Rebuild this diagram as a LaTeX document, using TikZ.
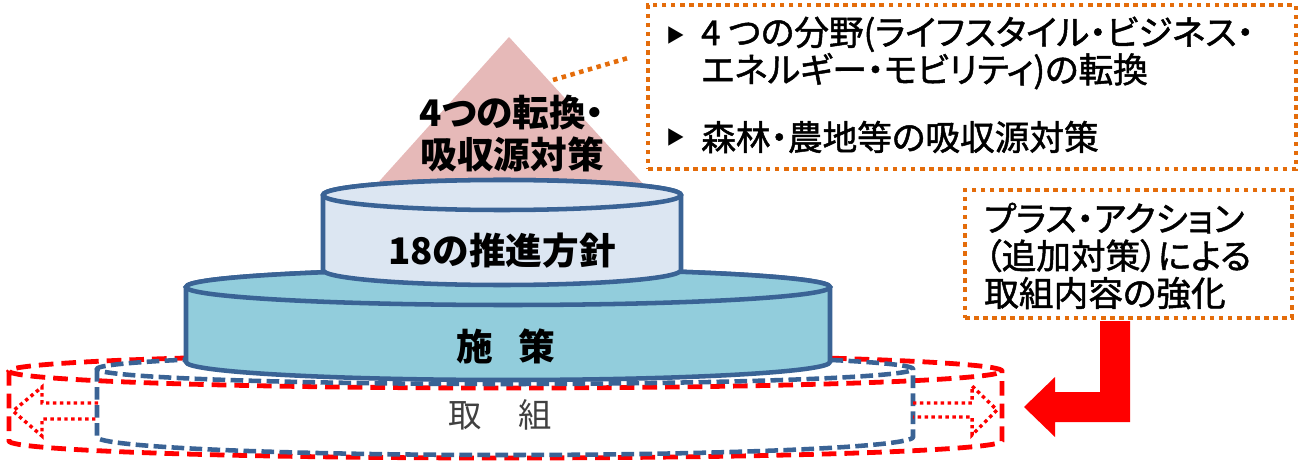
\documentclass[tikz,border=0pt]{standalone}
\usepackage{fontspec}
\setmainfont{Noto Sans CJK JP}[RawFeature=+palt]
\newfontfamily\medfont{Noto Sans CJK JP}[RawFeature=+palt,FakeBold=1.4]
\usepackage{xcolor}
\usepackage{tikz}
\usetikzlibrary{positioning}

\definecolor{rimblue}{HTML}{3A6395}
\definecolor{topfill}{HTML}{DCE6F2}
\definecolor{midfill}{HTML}{92CDDC}
\definecolor{peakfill}{HTML}{E6B9B8}
\definecolor{calloutorange}{HTML}{E46C0A}
\definecolor{textgray}{HTML}{404040}

\newcommand{\tri}{{\fontsize{14}{14}\selectfont ▶}}

\begin{document}
\begin{tikzpicture}[x=0.75pt,y=-0.75pt,
    rim/.style={draw=rimblue,line width=3.4pt},
    bluedash/.style={draw=rimblue,line width=3.4pt,dash pattern=on 9.5pt off 4pt},
    reddash/.style={draw=red,line width=3.6pt,dash pattern=on 11pt off 6pt},
    reddot/.style={draw=red,line width=2.6pt,dash pattern=on 2.6pt off 2.6pt},
    calloutbox/.style={draw=calloutorange,line width=3.4pt,dash pattern=on 3.4pt off 3.4pt,inner sep=0pt},
    layerlabel/.style={font=\fontsize{27.5}{31.5}\selectfont\bfseries,align=center},
    itemtext/.style={font=\medfont\fontsize{26}{28}\selectfont,align=left,inner sep=0pt}]
    \useasboundingbox (0,0) rectangle (1301,463);

    % Outer ring (red) and base ring (blue)
    \draw[reddash] (9,371) -- (9,441) arc[start angle=180,end angle=0,x radius=496.5,y radius=17]
        -- (1002,371) arc[start angle=0,end angle=-360,x radius=496.5,y radius=17];
    \draw[bluedash] (97,369) -- (97,437) arc[start angle=180,end angle=0,x radius=408,y radius=18]
        -- (913,369) arc[start angle=0,end angle=-360,x radius=408,y radius=15];

    % Dotted arrows
    \draw[reddot] (98,403) -- (42,403) -- (42,387) -- (13,411) -- (42,436) -- (42,419) -- (98,419);
    \draw[reddot] (913,403) -- (972,403) -- (972,386) -- (997,410) -- (972,435) -- (972,417) -- (913,417);

    % Peak
    \fill[peakfill] (509,37) -- (645,186) -- (375,186) -- cycle;

    % Middle cylinder
    \draw[rim,fill=midfill] (186,287) -- (186,362) arc[start angle=180,end angle=0,x radius=322,y radius=18]
        -- (830,287) arc[start angle=0,end angle=-180,x radius=322,y radius=18] -- cycle;
    \draw[rim,fill=midfill] (508,287) ellipse [x radius=322,y radius=18];

    % Top cylinder
    \draw[rim,fill=topfill] (323,195) -- (323,270) arc[start angle=180,end angle=0,x radius=179,y radius=15]
        -- (681,195) arc[start angle=0,end angle=-180,x radius=179,y radius=15] -- cycle;
    \draw[rim,fill=topfill] (502,195) ellipse [x radius=179,y radius=15];

    % Layer labels
    \node[layerlabel] (peak) at (512,134) {4つの転換・\\吸収源対策};
    \node[layerlabel] (policy) at (502,251) {18の推進方針};
    \node[layerlabel] (measures) at (506,346) {施\hspace{0.7em}策};
    \node[font=\fontsize{25}{28}\selectfont,text=textgray] (effort) at (500,415) {取\hspace{1.1em}組};

    % Callout box
    \node[calloutbox,minimum width=486pt,minimum height=123pt] (shiftbox) at (972,87) {};
    \node (tri1) at (676,35) {\tri};
    \node[itemtext,anchor=west] (item1) at (701,53) {4 つの分野(ライフスタイル・ビジネス・\\エネルギー・モビリティ)の転換};
    \node (tri2) at (676,137) {\tri};
    \node[itemtext,anchor=west] (item2) at (701,137) {森林・農地等の吸収源対策};
    \coordinate (calloutstart) at (553,80);
    \coordinate (calloutend) at (628,58);
    \draw[draw=calloutorange,line width=3.4pt,dash pattern=on 3.4pt off 3.4pt] (calloutstart) -- (calloutend);

    % Plus action box
    \node[calloutbox,minimum width=245.25pt,minimum height=96pt] (plusbox) at (1128.5,254) {};
    \node[itemtext,anchor=west] (plustext) at (984,256) {プラス・アクション\\（追加対策）による\\取組内容の強化};

    % Bent arrow
    \fill[red] (1100,321) -- (1130,321) -- (1130,422) -- (1055,422) -- (1055,437) -- (1024,407)
        -- (1055,377) -- (1055,392) -- (1100,392) -- cycle;
\end{tikzpicture}
\end{document}
